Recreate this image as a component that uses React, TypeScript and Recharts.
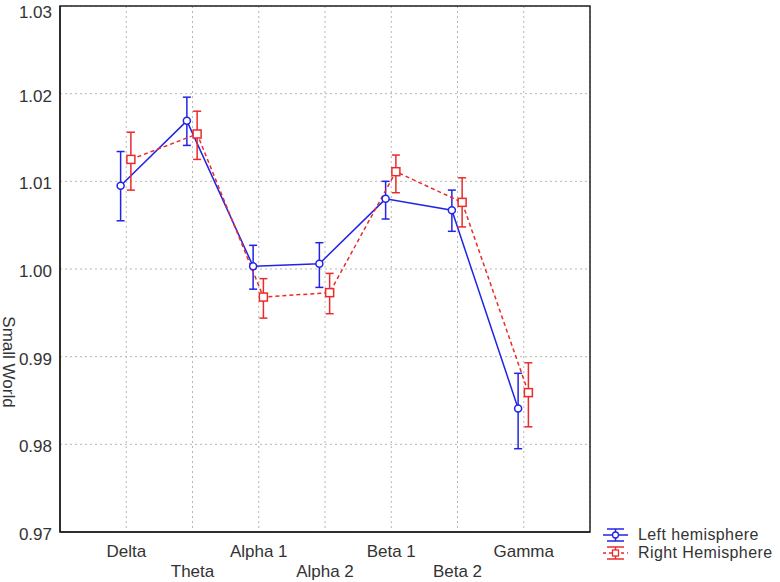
import React from "react"
import {
  ComposedChart,
  Line,
  XAxis,
  YAxis,
  CartesianGrid,
  ErrorBar,
  ReferenceArea,
  Label,
} from "recharts"

const bands = ["Delta", "Theta", "Alpha 1", "Alpha 2", "Beta 1", "Beta 2", "Gamma"]

const leftMean = [1.0095, 1.0169, 1.0003, 1.0006, 1.008, 1.0067, 0.9841]
const leftLow = [1.0055, 1.0141, 0.9977, 0.9979, 1.0057, 1.0043, 0.9795]
const leftHigh = [1.0134, 1.0196, 1.0027, 1.003, 1.01, 1.009, 0.9881]

const rightMean = [1.0125, 1.0154, 0.9968, 0.9973, 1.0111, 1.0076, 0.9859]
const rightLow = [1.009, 1.0125, 0.9944, 0.9949, 1.0087, 1.0048, 0.982]
const rightHigh = [1.0156, 1.018, 0.9989, 0.9995, 1.013, 1.0104, 0.9893]

const yTicks = [0.97, 0.98, 0.99, 1.0, 1.01, 1.02, 1.03]
const xTicks = [1, 2, 3, 4, 5, 6, 7]

const BLUE = "#2323e6"
const RED = "#ec2a2a"
const FONT = "Liberation Sans, Arial, sans-serif"

const build = (mean: number[], lo: number[], hi: number[], shift: number) =>
  mean.map((v, i) => ({ x: i + 1 + shift, y: v, err: [v - lo[i], hi[i] - v] }))

const leftData = build(leftMean, leftLow, leftHigh, -0.085)
const rightData = build(rightMean, rightLow, rightHigh, 0.07)

const CircleDot = (props: any) => {
  const { cx, cy } = props
  return <circle key={`c${cx}`} cx={cx} cy={cy} r={3.5} fill="#fff" stroke={BLUE} strokeWidth={1.5} />
}

const SquareDot = (props: any) => {
  const { cx, cy } = props
  return <rect key={`s${cx}`} x={cx - 4} y={cy - 4} width={8} height={8} fill="#fff" stroke={RED} strokeWidth={1.5} />
}

const BandTick = (props: any) => {
  const { x, y, payload } = props
  const i = payload.value - 1
  const row = i % 2 === 0 ? 25 : 45
  return (
    <text x={x} y={y + row} textAnchor="middle" fontSize={17} fill="#333">
      {bands[i]}
    </text>
  )
}

const LegendIcon = ({ color, dashed, square }: { color: string; dashed?: boolean; square?: boolean }) => (
  <svg width={25} height={16} style={{ marginRight: 10 }}>
    <line x1={4} y1={2} x2={21} y2={2} stroke={color} strokeWidth={1.5} />
    <line x1={4} y1={14} x2={21} y2={14} stroke={color} strokeWidth={1.5} />
    <line x1={12.5} y1={2} x2={12.5} y2={14} stroke={color} strokeWidth={1.5} />
    <line x1={0} y1={8} x2={25} y2={8} stroke={color} strokeWidth={1.5} strokeDasharray={dashed ? "3 3" : undefined} />
    {square ? (
      <rect x={9.5} y={5} width={6} height={6} fill="#fff" stroke={color} strokeWidth={1.3} />
    ) : (
      <circle cx={12.5} cy={8} r={3} fill="#fff" stroke={color} strokeWidth={1.3} />
    )}
  </svg>
)

const ChartLegend = () => (
  <div
    style={{
      position: "absolute",
      left: 603,
      top: 526,
      fontFamily: FONT,
      fontSize: 16,
      color: "#333",
      lineHeight: "18px",
      letterSpacing: 0.4,
    }}
  >
    <div style={{ display: "flex", alignItems: "center" }}>
      <LegendIcon color={BLUE} />
      <span>Left hemisphere</span>
    </div>
    <div style={{ display: "flex", alignItems: "center" }}>
      <LegendIcon color={RED} dashed square />
      <span>Right Hemisphere</span>
    </div>
  </div>
)

export default function App() {
  return (
    <div style={{ position: "absolute", left: 0, top: 0, width: 780, height: 582, background: "#fff" }}>
      <ComposedChart
        width={780}
        height={582}
        margin={{ top: 6, right: 190, bottom: 0, left: 0 }}
        style={{ fontFamily: FONT }}
      >
        <CartesianGrid stroke="#b5b5b5" strokeDasharray="2 3" />
        <XAxis
          type="number"
          dataKey="x"
          domain={[0, 8]}
          ticks={xTicks}
          tick={<BandTick />}
          tickSize={0}
          tickMargin={0}
          height={50}
          axisLine={{ stroke: "#222", strokeWidth: 1.5 }}
        />
        <YAxis
          type="number"
          domain={[0.97, 1.03]}
          ticks={yTicks}
          tickFormatter={(v: number) => v.toFixed(2)}
          tick={{ fontSize: 17, fill: "#333", dy: 2 }}
          tickSize={0}
          tickMargin={8}
          width={60}
          axisLine={{ stroke: "#222", strokeWidth: 1.5 }}
        >
          <Label
            content={() => (
              <text transform="translate(3,362) rotate(90)" textAnchor="middle" fontSize={17} fill="#333">
                Small World
              </text>
            )}
          />
        </YAxis>
        <ReferenceArea x1={0} x2={8} y1={0.97} y2={1.03} fill="none" stroke="#222" strokeWidth={1.5} />
        <Line
          data={leftData}
          dataKey="y"
          stroke={BLUE}
          strokeWidth={1.5}
          dot={CircleDot}
          isAnimationActive={false}
          name="Left hemisphere"
        >
          <ErrorBar dataKey="err" direction="y" width={4} stroke={BLUE} strokeWidth={1.5} />
        </Line>
        <Line
          data={rightData}
          dataKey="y"
          stroke={RED}
          strokeWidth={1.5}
          strokeDasharray="4 3"
          dot={SquareDot}
          isAnimationActive={false}
          name="Right Hemisphere"
        >
          <ErrorBar dataKey="err" direction="y" width={4} stroke={RED} strokeWidth={1.5} />
        </Line>
      </ComposedChart>
      <ChartLegend />
    </div>
  )
}
